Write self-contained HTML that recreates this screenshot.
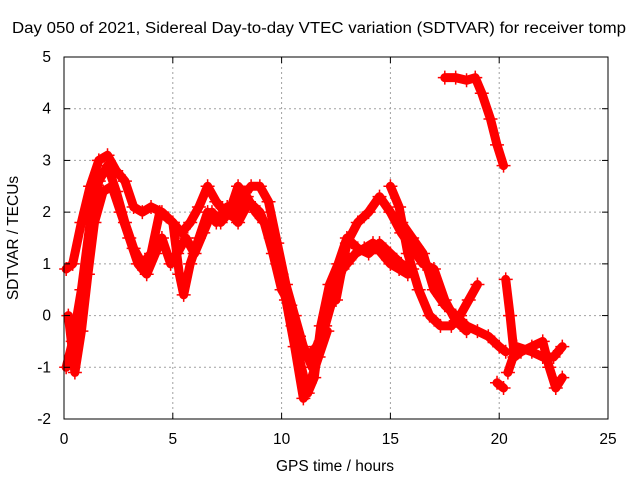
<!DOCTYPE html>
<html><head><meta charset="utf-8"><style>
body{margin:0;background:#fff;}
svg{display:block;font-family:"Liberation Sans",sans-serif;}
</style></head><body>
<svg id="chart" width="640" height="480">
<rect width="640" height="480" fill="#fff"/>
<g id="grid"></g>
<g id="series"></g>
<rect x="64" y="57" width="544" height="362" fill="none" stroke="#000" stroke-width="1"/>
<g id="ticks"></g>
<text x="12" y="33" font-size="15.5" textLength="614" lengthAdjust="spacingAndGlyphs">Day 050 of 2021, Sidereal Day-to-day VTEC variation (SDTVAR) for receiver tomp</text>
<text x="335" y="471" font-size="15.5" text-anchor="middle">GPS time / hours</text>
<text x="0" y="0" font-size="15.5" text-anchor="middle" transform="translate(18,238) rotate(-90)">SDTVAR / TECUs</text>
</svg>
<script>
const xTicks=[0,5,10,15,20,25];
const yTicks=[-2,-1,0,1,2,3,4,5];
const trackA=[[0.1,0.9],[0.4,1.0],[0.8,1.8],[1.2,2.5],[1.6,3.0],[2.0,3.1],[2.4,2.8],[2.8,2.6],[3.2,2.1],[3.6,2.0],[4.0,2.1],[4.5,2.0],[5.0,1.8],[5.4,1.6],[5.8,1.8],[6.2,2.1],[6.6,2.5],[7.0,2.2],[7.4,2.0],[7.8,1.9],[8.2,2.3],[8.6,2.5],[9.0,2.5],[9.4,2.2],[9.8,1.4],[10.2,0.6],[10.6,0.0],[11.0,-0.6],[11.4,-1.0],[11.8,-0.5],[12.2,0.2],[12.6,0.8],[13.0,1.0],[13.4,1.2],[13.8,1.3],[14.2,1.4],[14.6,1.2],[15.0,1.0],[15.4,0.9],[15.8,0.8]];
const trackB=[[0.1,-1.0],[0.4,-0.5],[0.8,0.5],[1.2,1.8],[1.6,2.6],[2.0,2.9],[2.4,2.4],[2.8,1.8],[3.2,1.3],[3.6,1.0],[4.0,1.2],[4.4,2.0],[5.0,1.8],[5.3,0.8],[5.5,0.4],[5.8,1.0],[6.2,1.5],[6.6,2.0],[7.0,1.8],[7.5,2.1],[8.0,1.8],[8.5,2.2],[9.0,2.0],[9.5,1.5],[10.0,0.8],[10.5,-0.2],[10.8,-0.8],[11.2,-1.5],[11.5,-1.2],[11.8,-0.2],[12.2,0.6],[12.6,1.0],[13.0,1.5],[13.5,1.3],[14.0,1.2],[14.5,1.4],[15.0,1.2],[15.5,1.0],[16.0,0.9]];
const trackC=[[0.2,0.0],[0.5,-1.1],[0.8,-0.3],[1.1,0.8],[1.4,1.8],[1.8,2.4],[2.2,2.5],[2.6,2.0],[3.0,1.5],[3.4,1.0],[3.8,0.8],[4.2,1.2],[4.5,1.5],[4.9,1.0],[5.2,1.2],[5.6,1.5],[6.0,1.2],[6.4,1.6],[6.8,2.0],[7.2,1.8],[7.6,2.0],[8.0,2.5],[8.4,2.3],[8.8,2.0],[9.2,1.8],[9.6,1.2],[10.0,0.5],[10.4,0.2],[10.8,-0.4],[11.2,-0.8],[11.6,-0.6],[12.0,-0.2],[12.4,0.4],[12.8,0.9]];
const trackD=[[9.8,1.0],[10.2,0.3],[10.6,-0.6],[11.0,-1.6],[11.3,-1.3],[11.7,-0.8],[12.1,-0.3]];
const trackE=[[12.5,0.3],[13.0,1.4],[13.5,1.8],[14.0,2.0],[14.5,2.3],[15.0,2.0],[15.5,1.6],[16.0,1.3],[16.5,1.0],[17.0,0.9],[17.5,0.3],[18.0,-0.1],[18.5,-0.3]];
const trackF=[[15.0,2.5],[15.4,2.1],[15.8,1.2],[16.3,0.5],[16.8,0.0],[17.3,-0.2],[17.8,-0.2],[18.2,0.0],[18.6,0.3],[19.0,0.6]];
const trackG=[[15.5,1.8],[16.0,1.5],[16.5,1.2],[17.0,0.5],[17.5,0.2],[18.0,0.0],[18.5,-0.2],[19.0,-0.3],[19.5,-0.4],[20.0,-0.6],[20.3,-0.7]];
const trackH=[[17.5,4.6],[18.0,4.6],[18.5,4.55],[18.9,4.6],[19.2,4.3],[19.6,3.8],[19.9,3.3],[20.2,2.9]];
const trackI=[[19.9,-1.3],[20.2,-1.4]];
const trackJ=[[20.3,0.7],[20.5,0.0],[20.7,-0.8],[21.0,-0.7],[21.5,-0.6],[22.0,-0.5],[22.3,-1.0],[22.6,-1.4],[22.9,-1.2]];
const trackK=[[20.4,-1.1],[20.8,-0.6],[21.5,-0.7],[22.0,-0.8],[22.5,-0.8],[22.9,-0.6]];
const tracks=[trackA,trackB,trackC,trackD,trackE,trackF,trackG,trackH,trackI,trackJ,trackK];
const X0=64,X1=608,Y0=419,Y1=57;
const xs=v=>X0+(v-0)/(25-0)*(X1-X0);
const ys=v=>Y0-(v+2)/7*(Y0-Y1);
const NS='http://www.w3.org/2000/svg';
const grid=document.getElementById('grid'),ticks=document.getElementById('ticks'),ser=document.getElementById('series');
function mk(t,a,p){const e=document.createElementNS(NS,t);for(const k in a)e.setAttribute(k,a[k]);p.appendChild(e);return e;}
xTicks.forEach(v=>{const x=xs(v);
 if(v>0&&v<25){const g=mk('line',{x1:x,x2:x,y1:Y0,y2:Y1,stroke:'#a0a0a0','stroke-dasharray':'2,3'},grid);
 }
 const t=mk('line',{x1:x,x2:x,y1:Y0,y2:Y0-6,stroke:'#000'},ticks);
 
 const t2=mk('line',{x1:x,x2:x,y1:Y1,y2:Y1+6,stroke:'#000'},ticks);
 
 const l=mk('text',{x:x,y:444,'font-size':15.5,'text-anchor':'middle'},ticks);l.textContent=v;
 });
yTicks.forEach(v=>{const y=ys(v);
 if(v>-2&&v<5){const g=mk('line',{x1:X0,x2:X1,y1:y,y2:y,stroke:'#a0a0a0','stroke-dasharray':'2,3'},grid);
 }
 const t=mk('line',{x1:X0,x2:X0+6,y1:y,y2:y,stroke:'#000'},ticks);
 
 const t2=mk('line',{x1:X1,x2:X1-6,y1:y,y2:y,stroke:'#000'},ticks);
 
 const l=mk('text',{x:51,y:y+5,'font-size':15.5,'text-anchor':'end'},ticks);l.textContent=v;
 });
tracks.forEach((tr,i)=>{
 const g=mk('g',{},ser);
 
 
 const pl=mk('polyline',{points:tr.map(p=>xs(p[0])+','+ys(p[1])).join(' '),fill:'none',stroke:'#ff0000','stroke-width':9,'stroke-linejoin':'round','stroke-linecap':'round'},g);
 
 
 tr.forEach(p=>{const x=xs(p[0]),y=ys(p[1]);
  const m=mk('path',{d:`M${x-7},${y}H${x+7}M${x},${y-7}V${y+7}`,stroke:'#ff0000','stroke-width':1.5},g);
  
  });
});
</script>
</body></html>
